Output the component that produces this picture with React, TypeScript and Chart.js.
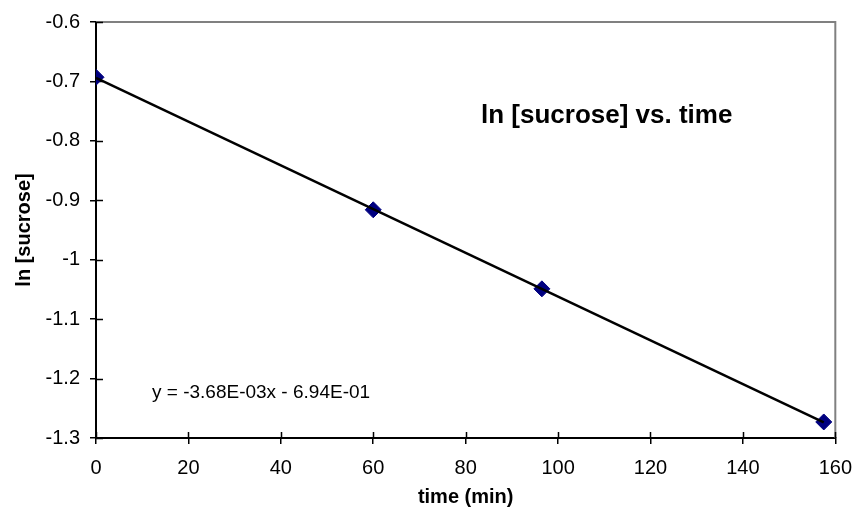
import React, { useEffect, useRef } from "react";
import { Chart, registerables } from "chart.js";

Chart.register(...registerables);

const timeMin = [0, 60, 96.5, 157.5];
const lnSucrose = [-0.693, -0.916, -1.049, -1.273];
const trendX = [0, 157.5];
const trendY = [-0.694, -1.2736];
const xTickValues = [0, 20, 40, 60, 80, 100, 120, 140, 160];
const yTickLabels = ["-0.6", "-0.7", "-0.8", "-0.9", "-1", "-1.1", "-1.2", "-1.3"];
const chartTitle = "ln [sucrose] vs. time";
const equationText = "y = -3.68E-03x - 6.94E-01";
const xTitle = "time (min)";
const yTitle = "ln [sucrose]";

const FONT = "'Liberation Sans', Arial, sans-serif";

const decor = {
  id: "decor",
  beforeDatasetsDraw(chart: any) {
    const { ctx, chartArea: a, scales } = chart;
    ctx.save();
    ctx.strokeStyle = "#808080";
    ctx.lineWidth = 2;
    ctx.beginPath();
    ctx.moveTo(a.left, a.top);
    ctx.lineTo(a.right, a.top);
    ctx.lineTo(a.right, a.bottom);
    ctx.stroke();
    ctx.strokeStyle = "#000";
    ctx.lineWidth = 1.5;
    ctx.beginPath();
    scales.x.ticks.forEach((t: any) => {
      const px = Math.round(scales.x.getPixelForValue(t.value)) + 0.5;
      ctx.moveTo(px, a.bottom);
      ctx.lineTo(px, a.bottom - 6);
    });
    scales.y.ticks.forEach((t: any) => {
      const py = Math.round(scales.y.getPixelForValue(t.value)) + 0.5;
      ctx.moveTo(a.left, py);
      ctx.lineTo(a.left + 7, py);
    });
    ctx.stroke();
    ctx.fillStyle = "#000";
    ctx.textBaseline = "alphabetic";
    ctx.textAlign = "left";
    ctx.font = `bold 26px ${FONT}`;
    ctx.fillText(chartTitle, a.left + 385, a.top + 101);
    ctx.font = `19px ${FONT}`;
    ctx.textBaseline = "middle";
    ctx.fillText(equationText, a.left + 56, a.top + 371);
    ctx.restore();
  },
};

export default function App() {
  const ref = useRef<HTMLCanvasElement | null>(null);
  useEffect(() => {
    document.body.style.margin = "0";
    const chart = new Chart(ref.current as HTMLCanvasElement, {
      type: "scatter",
      data: {
        datasets: [
          {
            label: "trend",
            data: trendX.map((x, i) => ({ x, y: trendY[i] })),
            showLine: true,
            borderColor: "#000",
            borderWidth: 2.5,
            pointRadius: 0,
            fill: false,
          },
          {
            label: "ln [sucrose]",
            data: timeMin.map((x, i) => ({ x, y: lnSucrose[i] })),
            showLine: false,
            pointStyle: "rectRot",
            pointRadius: 8,
            backgroundColor: "#000080",
            borderColor: "#000080",
            borderWidth: 1,
          },
        ],
      },
      options: {
        animation: false,
        responsive: false,
        layout: { padding: { top: 21, right: 19, left: 0, bottom: 0 } },
        plugins: { legend: { display: false }, tooltip: { enabled: false } },
        scales: {
          x: {
            type: "linear",
            min: 0,
            max: 160,
            afterBuildTicks: (s: any) => {
              s.ticks = xTickValues.map((v) => ({ value: v }));
            },
            afterFit: (s: any) => {
              s.height = 72;
            },
            grid: { drawOnChartArea: false, tickLength: 6, color: "#000", lineWidth: 1.5 },
            border: { color: "#000", width: 2 },
            ticks: {
              color: "#000",
              padding: 12,
              font: { family: FONT, size: 20 },
              maxRotation: 0,
              callback: (v: any) => String(v),
            },
            title: {
              display: true,
              text: xTitle,
              color: "#000",
              font: { family: FONT, size: 20, weight: "bold" },
              padding: { top: 0, bottom: 1 },
            },
          },
          y: {
            type: "linear",
            min: -1.3,
            max: -0.6,
            afterBuildTicks: (s: any) => {
              s.ticks = yTickLabels.map((l) => ({ value: parseFloat(l) }));
            },
            afterFit: (s: any) => {
              s.width = 96;
            },
            grid: { drawOnChartArea: false, tickLength: 6, color: "#000", lineWidth: 1.5 },
            border: { color: "#000", width: 2 },
            ticks: {
              color: "#000",
              padding: 10,
              font: { family: FONT, size: 20 },
              callback: (v: any) => {
                const idx = yTickLabels.findIndex((l) => Math.abs(parseFloat(l) - v) < 1e-6);
                return idx >= 0 ? yTickLabels[idx] : "";
              },
            },
            title: {
              display: true,
              text: yTitle,
              color: "#000",
              font: { family: FONT, size: 20, weight: "bold" },
              padding: { top: 12, bottom: 0 },
            },
          },
        },
      },
      plugins: [decor],
    } as any);
    return () => chart.destroy();
  }, []);
  return (
    <div style={{ position: "fixed", left: 0, top: 0, width: 864, height: 510, background: "#fff" }}>
      <canvas ref={ref} width={864} height={510} style={{ width: 864, height: 510 }} />
    </div>
  );
}
